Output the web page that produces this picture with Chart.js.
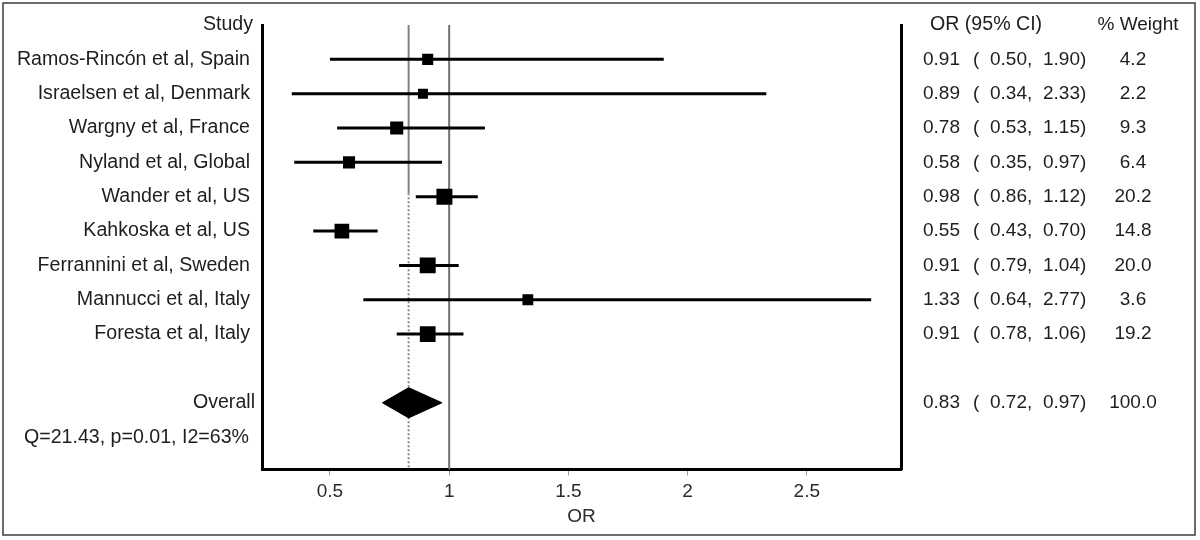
<!DOCTYPE html>
<html lang="en">
<head>
    <meta charset="UTF-8">
    <title>Forest plot - OR</title>
    <script src="https://cdn.jsdelivr.net/npm/chart.js@4.4.1/dist/chart.umd.min.js"></script>
    <style>
        html, body { margin: 0; padding: 0; background: #fff; }
        #wrap { width: 1200px; height: 540px; position: relative; }
    </style>
</head>
<body>
    <div id="wrap">
        <canvas id="forest" width="1200" height="540"></canvas>
    </div>

    <script>
        // study data
        var studies = [
            "Ramos-Rincón et al, Spain",
            "Israelsen et al, Denmark",
            "Wargny et al, France",
            "Nyland et al, Global",
            "Wander et al, US",
            "Kahkoska et al, US",
            "Ferrannini et al, Sweden",
            "Mannucci et al, Italy",
            "Foresta et al, Italy"
        ];
        var orValues = [0.91, 0.89, 0.78, 0.58, 0.98, 0.55, 0.91, 1.33, 0.91];
        var ciLower  = [0.50, 0.34, 0.53, 0.35, 0.86, 0.43, 0.79, 0.64, 0.78];
        var ciUpper  = [1.90, 2.33, 1.15, 0.97, 1.12, 0.70, 1.04, 2.77, 1.06];
        var weights  = [4.2, 2.2, 9.3, 6.4, 20.2, 14.8, 20.0, 3.6, 19.2];

        var overallLabel = "Overall";
        var overallEstimate = [0.83, 0.72, 0.97];   // OR, lower, upper
        var overallWeight = 100.0;
        var heterogeneity = "Q=21.43, p=0.01, I2=63%";

        var xTicks = [0.5, 1, 1.5, 2, 2.5];
        var nullValue = 1;

        // row layout: 0 = header, 1..9 studies, 11 overall, 12 heterogeneity
        var overallRow = studies.length + 2;
        var yMax = 12.94;
        var xMin = 0.215, xMax = 2.895;

        var FONT = '"Liberation Sans", Arial, sans-serif';
        var TXT = '#1e1e1e';

        var datasets = [];

        // squares
        datasets.push({
            label: 'estimates',
            data: orValues.map(function (v, i) { return { x: v, y: i + 1 }; }),
            pointStyle: 'rect',
            pointRadius: function (ctx) {
                var side = 7 + 2 * Math.sqrt(weights[ctx.dataIndex]);
                return side / Math.SQRT2;
            },
            pointHoverRadius: 0,
            backgroundColor: '#000',
            borderColor: '#000',
            borderWidth: 0,
            showLine: false,
            order: 0
        });

        // CI lines
        studies.forEach(function (s, i) {
            datasets.push({
                label: s,
                data: [{ x: ciLower[i], y: i + 1 }, { x: ciUpper[i], y: i + 1 }],
                showLine: true,
                borderColor: '#000',
                borderWidth: 3,
                pointRadius: 0,
                order: 1
            });
        });

        // overall diamond
        var h = 0.44;
        datasets.push({
            label: 'overall',
            data: [
                { x: overallEstimate[1], y: overallRow },
                { x: overallEstimate[0], y: overallRow - h },
                { x: overallEstimate[2], y: overallRow },
                { x: overallEstimate[0], y: overallRow + h },
                { x: overallEstimate[1], y: overallRow }
            ],
            showLine: true,
            fill: 'shape',
            backgroundColor: '#000',
            borderColor: '#000',
            borderWidth: 1,
            pointRadius: 0,
            tension: 0,
            order: 0
        });

        // reference lines
        datasets.push({
            label: 'null',
            data: [{ x: nullValue, y: 0 }, { x: nullValue, y: yMax }],
            showLine: true,
            borderColor: '#707070',
            borderWidth: 2,
            pointRadius: 0,
            order: 2
        });
        datasets.push({
            label: 'pooled top',
            data: [{ x: overallEstimate[0], y: 0 }, { x: overallEstimate[0], y: 4.9 }],
            showLine: true,
            borderColor: '#808080',
            borderWidth: 2,
            pointRadius: 0,
            order: 2
        });
        datasets.push({
            label: 'pooled bottom',
            data: [{ x: overallEstimate[0], y: 4.9 }, { x: overallEstimate[0], y: yMax }],
            showLine: true,
            borderColor: '#8a8a8a',
            borderWidth: 2,
            borderDash: [2, 2],
            pointRadius: 0,
            order: 2
        });

        function fmt(v) { return v.toFixed(2); }

        var textPlugin = {
            id: 'forestText',
            afterDraw: function (chart) {
                var ctx = chart.ctx;
                var y = chart.scales.y;
                var area = chart.chartArea;
                ctx.save();
                ctx.fillStyle = TXT;
                ctx.textBaseline = 'middle';
                ctx.font = '19.6px ' + FONT;

                // headers
                ctx.textAlign = 'right';
                ctx.fillText('Study', area.left - 9, y.getPixelForValue(0));
                ctx.textAlign = 'left';
                ctx.fillText('OR (95% CI)', area.right + 29, y.getPixelForValue(0));
                ctx.textAlign = 'center';
                ctx.font = '19px ' + FONT;
                ctx.fillText('% Weight', area.right + 237, y.getPixelForValue(0));

                var colX = area.right + 22;
                function orRow(est, lo, hi, wt, row) {
                    var py = y.getPixelForValue(row);
                    ctx.font = '19px ' + FONT;
                    ctx.textAlign = 'left';
                    ctx.fillText(fmt(est), colX, py);
                    ctx.fillText('(', colX + 50, py);
                    ctx.fillText(fmt(lo) + ',', colX + 67, py);
                    ctx.fillText(fmt(hi) + ')', colX + 120, py);
                    ctx.textAlign = 'center';
                    ctx.fillText(wt.toFixed(1), area.right + 232, py);
                }

                studies.forEach(function (s, i) {
                    var py = y.getPixelForValue(i + 1);
                    ctx.font = '19.6px ' + FONT;
                    ctx.textAlign = 'right';
                    ctx.fillText(s, area.left - 12, py);
                    orRow(orValues[i], ciLower[i], ciUpper[i], weights[i], i + 1);
                });

                ctx.font = '19.6px ' + FONT;
                ctx.textAlign = 'right';
                ctx.fillText(overallLabel, area.left - 7, y.getPixelForValue(overallRow));
                orRow(overallEstimate[0], overallEstimate[1], overallEstimate[2], overallWeight, overallRow);

                ctx.font = '19.6px ' + FONT;
                ctx.textAlign = 'left';
                ctx.fillText(heterogeneity, 24, y.getPixelForValue(overallRow + 1));

                // outer frame
                ctx.strokeStyle = '#3c3c3c';
                ctx.lineWidth = 1.5;
                ctx.strokeRect(3, 3, 1192, 532);
                ctx.restore();
            }
        };

        Chart.defaults.font.family = FONT;
        Chart.defaults.color = TXT;

        new Chart(document.getElementById('forest'), {
            type: 'scatter',
            data: { datasets: datasets },
            options: {
                responsive: false,
                animation: false,
                layout: { padding: { left: 262, right: 299, top: 25, bottom: 12 } },
                plugins: {
                    legend: { display: false },
                    tooltip: { enabled: false }
                },
                scales: {
                    x: {
                        type: 'linear',
                        min: xMin,
                        max: xMax,
                        afterBuildTicks: function (axis) {
                            axis.ticks = xTicks.map(function (v) { return { value: v }; });
                        },
                        ticks: {
                            font: { size: 19 },
                            color: '#2a2a2a',
                            padding: 5,
                            callback: function (v) { return String(v); }
                        },
                        grid: { drawOnChartArea: false, drawTicks: true, tickLength: 6, color: '#999' },
                        border: { display: true, color: '#000', width: 3 },
                        title: { display: true, text: 'OR', font: { size: 19 }, color: '#2a2a2a', padding: { top: -3, bottom: 0 } }
                    },
                    y: {
                        type: 'linear',
                        reverse: true,
                        min: 0,
                        max: yMax,
                        ticks: { display: false },
                        grid: { display: false, drawTicks: false },
                        border: { display: true, color: '#000', width: 3 }
                    },
                    y2: {
                        type: 'linear',
                        position: 'right',
                        ticks: { display: false },
                        grid: { display: false, drawTicks: false },
                        border: { display: true, color: '#000', width: 3 }
                    }
                }
            },
            plugins: [textPlugin]
        });
    </script>
</body>
</html>
